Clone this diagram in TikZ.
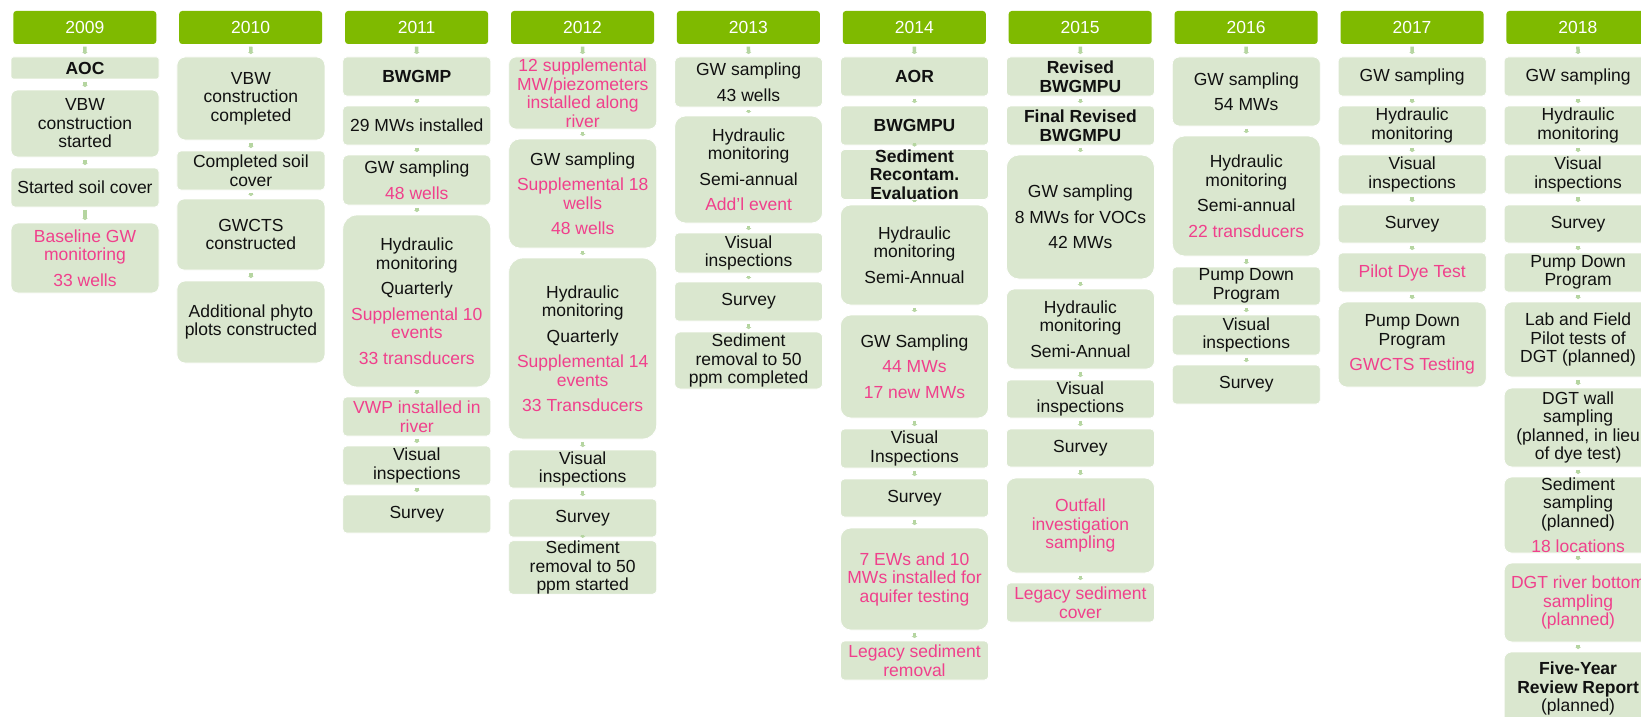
\documentclass[tikz,border=0pt]{standalone}
\usepackage{fontspec}
\setmainfont{Liberation Sans}
\usetikzlibrary{arrows.meta}
\definecolor{hdrc}{HTML}{7FBA00}
\definecolor{boxc}{HTML}{DAE7CF}
\definecolor{pinkc}{HTML}{F0408C}
\definecolor{connc}{HTML}{B5D5A0}
\definecolor{txtc}{HTML}{111111}
\newcommand\pk[1]{\textcolor{pinkc}{#1}}
\newcommand\bx[5]{%
  \pgfmathsetmacro\bxcx{85+165.9*#2}%
  \pgfmathsetmacro\bxh{#4-#3}%
  \pgfmathsetmacro\bxcy{(#3+#4)/2}%
  \pgfmathsetmacro\bxr{min(0.1*\bxh,14)}%
  \node[box, minimum height=\bxh pt, rounded corners=\bxr pt] (#1) at (\bxcx,\bxcy) {#5};%
}
\newcommand\hd[3]{%
  \pgfmathsetmacro\bxcx{84.8+165.9*#2}%
  \node[hdr] (#1) at (\bxcx,27.5) {#3};%
}
\tikzset{
  box/.style={fill=boxc, draw=white, line width=0.8pt, minimum width=148pt, inner sep=0pt,
    align=center, text=txtc, font=\fontsize{17.5}{18.5}\selectfont},
  hdr/.style={fill=hdrc, draw=none, minimum width=143pt, minimum height=33pt, inner sep=0pt,
    rounded corners=3pt, text=white, font=\fontsize{17.5}{18.5}\selectfont},
  conn/.style={draw=connc, line width=3.5pt, shorten <=2.5pt, shorten >=2.5pt,
    -{Triangle[width=5.5pt,length=2pt]}}
}
\begin{document}
\begin{tikzpicture}[x=1pt,y=-1pt]
\useasboundingbox (0,0) rectangle (1641,717);
\clip (0,0) rectangle (1641,717);
\fill[white] (0,0) rectangle (1641,717);
% headers
\hd{h0}{0}{2009}
\hd{h1}{1}{2010}
\hd{h2}{2}{2011}
\hd{h3}{3}{2012}
\hd{h4}{4}{2013}
\hd{h5}{5}{2014}
\hd{h6}{6}{2015}
\hd{h7}{7}{2016}
\hd{h8}{8}{2017}
\hd{h9}{9}{2018}
% 2009
\bx{c0a}{0}{57}{79}{\textbf{AOC}}
\bx{c0b}{0}{90}{157}{VBW\\construction\\started}
\bx{c0c}{0}{168}{207}{Started soil cover}
\bx{c0d}{0}{223}{293}{\pk{Baseline GW}\\\pk{monitoring}\\[7pt]\pk{33 wells}}
% 2010
\bx{c1a}{1}{57}{140}{VBW\\construction\\completed}
\bx{c1b}{1}{151}{190}{Completed soil\\cover}
\bx{c1c}{1}{199}{270}{GWCTS\\constructed}
\bx{c1d}{1}{281}{363}{Additional phyto\\plots constructed}
% 2011
\bx{c2a}{2}{57}{96}{\textbf{BWGMP}}
\bx{c2b}{2}{106}{145}{29 MWs installed}
\bx{c2c}{2}{155}{205}{GW sampling\\[7pt]\pk{48 wells}}
\bx{c2d}{2}{215}{387}{Hydraulic\\monitoring\\[7pt]Quarterly\\[7pt]\pk{Supplemental 10}\\\pk{events}\\[7pt]\pk{33 transducers}}
\bx{c2e}{2}{397}{436}{\pk{VWP installed in}\\\pk{river}}
\bx{c2f}{2}{446}{485}{Visual\\inspections}
\bx{c2g}{2}{495}{533}{Survey}
% 2012
\bx{c3a}{3}{57}{129}{\pk{12 supplemental}\\\pk{MW/piezometers}\\\pk{installed along}\\\pk{river}}
\bx{c3b}{3}{139}{248}{GW sampling\\[7pt]\pk{Supplemental 18}\\\pk{wells}\\[7pt]\pk{48 wells}}
\bx{c3c}{3}{258}{439}{Hydraulic\\monitoring\\[7pt]Quarterly\\[7pt]\pk{Supplemental 14}\\\pk{events}\\[7pt]\pk{33 Transducers}}
\bx{c3d}{3}{450}{488}{Visual\\inspections}
\bx{c3e}{3}{499}{537}{Survey}
\bx{c3f}{3}{548}{587}{Sediment\\removal to 50\\ppm started}
% 2013
\bx{c4a}{4}{57}{107}{GW sampling\\[7pt]43 wells}
\bx{c4b}{4}{116}{223}{Hydraulic\\monitoring\\[7pt]Semi-annual\\[7pt]\pk{Add’l event}}
\bx{c4c}{4}{233}{273}{Visual\\inspections}
\bx{c4d}{4}{282}{321}{Survey}
\bx{c4e}{4}{332}{389}{Sediment\\removal to 50\\ppm completed}
% 2014
\bx{c5a}{5}{57}{96}{\textbf{AOR}}
\bx{c5b}{5}{106}{145}{\textbf{BWGMPU}}
\bx{c5c}{5}{155}{194}{\textbf{Sediment}\\\textbf{Recontam.}\\\textbf{Evaluation}}
\bx{c5d}{5}{205}{305}{Hydraulic\\monitoring\\[7pt]Semi-Annual}
\bx{c5e}{5}{315}{418}{GW Sampling\\[7pt]\pk{44 MWs}\\[7pt]\pk{17 new MWs}}
\bx{c5f}{5}{429}{468}{Visual\\Inspections}
\bx{c5g}{5}{479}{517}{Survey}
\bx{c5h}{5}{528}{630}{\pk{7 EWs and 10}\\\pk{MWs installed for}\\\pk{aquifer testing}}
\bx{c5i}{5}{641}{680}{\pk{Legacy sediment}\\\pk{removal}}
% 2015
\bx{c6a}{6}{57}{96}{\textbf{Revised}\\\textbf{BWGMPU}}
\bx{c6b}{6}{106}{145}{\textbf{Final Revised}\\\textbf{BWGMPU}}
\bx{c6c}{6}{155}{279}{GW sampling\\[7pt]8 MWs for VOCs\\[7pt]42 MWs}
\bx{c6d}{6}{289}{369}{Hydraulic\\monitoring\\[7pt]Semi-Annual}
\bx{c6e}{6}{380}{418}{Visual\\inspections}
\bx{c6f}{6}{429}{467}{Survey}
\bx{c6g}{6}{478}{573}{\pk{Outfall}\\\pk{investigation}\\\pk{sampling}}
\bx{c6h}{6}{583}{622}{\pk{Legacy sediment}\\\pk{cover}}
% 2016
\bx{c7a}{7}{57}{126}{GW sampling\\[7pt]54 MWs}
\bx{c7b}{7}{136}{256}{Hydraulic\\monitoring\\[7pt]Semi-annual\\[7pt]\pk{22 transducers}}
\bx{c7c}{7}{267}{305}{Pump Down\\Program}
\bx{c7d}{7}{315}{355}{Visual\\inspections}
\bx{c7e}{7}{365}{404}{Survey}
% 2017
\bx{c8a}{8}{57}{96}{GW sampling}
\bx{c8b}{8}{106}{145}{Hydraulic\\monitoring}
\bx{c8c}{8}{155}{194}{Visual\\inspections}
\bx{c8d}{8}{205}{243}{Survey}
\bx{c8e}{8}{253}{292}{\pk{Pilot Dye Test}}
\bx{c8f}{8}{302}{387}{Pump Down\\Program\\[7pt]\pk{GWCTS Testing}}
% 2018
\bx{c9a}{9}{57}{96}{GW sampling}
\bx{c9b}{9}{106}{145}{Hydraulic\\monitoring}
\bx{c9c}{9}{155}{194}{Visual\\inspections}
\bx{c9d}{9}{205}{243}{Survey}
\bx{c9e}{9}{253}{292}{Pump Down\\Program}
\bx{c9f}{9}{302}{377}{Lab and Field\\Pilot tests of\\DGT (planned)}
\bx{c9g}{9}{388}{467}{DGT wall\\sampling\\(planned, in lieu\\of dye test)}
\bx{c9h}{9}{477}{553}{Sediment\\sampling\\(planned)\\[7pt]\pk{18 locations}}
\bx{c9i}{9}{563}{642}{\pk{DGT river bottom}\\\pk{sampling}\\\pk{(planned)}}
\bx{c9j}{9}{652}{725}{\textbf{Five-Year}\\\textbf{Review Report}\\(planned)}
% connectors
\foreach \a/\b in {h0/c0a,c0a/c0b,c0b/c0c,c0c/c0d,
  h1/c1a,c1a/c1b,c1b/c1c,c1c/c1d,
  h2/c2a,c2a/c2b,c2b/c2c,c2c/c2d,c2d/c2e,c2e/c2f,c2f/c2g,
  h3/c3a,c3a/c3b,c3b/c3c,c3c/c3d,c3d/c3e,c3e/c3f,
  h4/c4a,c4a/c4b,c4b/c4c,c4c/c4d,c4d/c4e,
  h5/c5a,c5a/c5b,c5b/c5c,c5c/c5d,c5d/c5e,c5e/c5f,c5f/c5g,c5g/c5h,c5h/c5i,
  h6/c6a,c6a/c6b,c6b/c6c,c6c/c6d,c6d/c6e,c6e/c6f,c6f/c6g,c6g/c6h,
  h7/c7a,c7a/c7b,c7b/c7c,c7c/c7d,c7d/c7e,
  h8/c8a,c8a/c8b,c8b/c8c,c8c/c8d,c8d/c8e,c8e/c8f,
  h9/c9a,c9a/c9b,c9b/c9c,c9c/c9d,c9d/c9e,c9e/c9f,c9f/c9g,c9g/c9h,c9h/c9i,c9i/c9j}
  \draw[conn] (\a.south) -- (\b.north);
\end{tikzpicture}
\end{document}
